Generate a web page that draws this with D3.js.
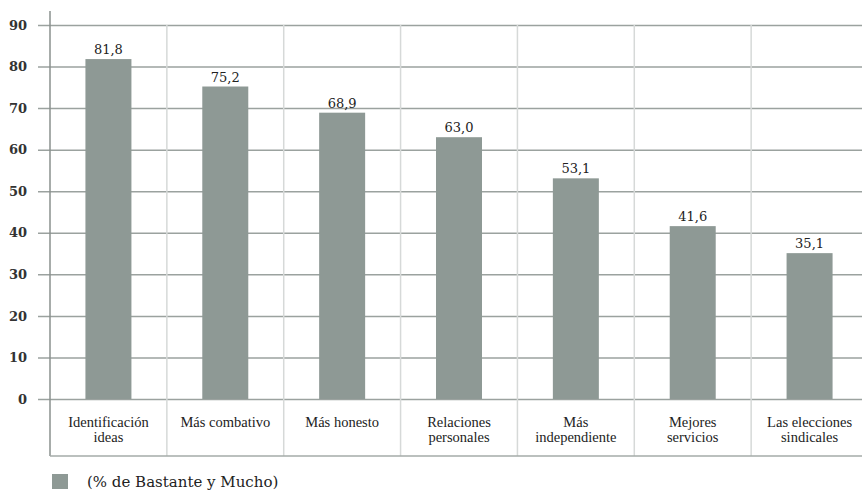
<!DOCTYPE html>
<html>
<head>
<meta charset="utf-8">
<script src="https://cdn.jsdelivr.net/npm/d3@7"></script>
<style>
  html, body { margin: 0; padding: 0; background: #fff; }
  svg { display: block; }
</style>
</head>
<body>
<svg id="chart" width="862" height="494"></svg>
<script>
// Categories (two-line labels) and percentages
const categories = [
  ["Identificación", "ideas"],
  ["Más combativo"],
  ["Más honesto"],
  ["Relaciones", "personales"],
  ["Más", "independiente"],
  ["Mejores", "servicios"],
  ["Las elecciones", "sindicales"]
];
const values = [81.8, 75.2, 68.9, 63.0, 53.1, 41.6, 35.1];
const yTicks = [0, 10, 20, 30, 40, 50, 60, 70, 80, 90];
const legendLabel = "(% de Bastante y Mucho)";

(function draw() {
  const svg = d3.select("#chart");
  const plotLeft = 50, plotRight = 868, plotTop = 25, plotBottom = 399, labelBottom = 456;
  const slab = "'DejaVu Serif', serif";
  const book = "'Liberation Serif', serif";

  const x = d3.scaleBand()
    .domain(d3.range(categories.length))
    .range([plotLeft, plotRight])
    .paddingInner(0).paddingOuter(0);

  const y = d3.scaleLinear().domain([0, 90]).range([plotBottom, plotTop]);

  const fmt = v => d3.format(".1f")(v).replace(".", ",");

  // horizontal gridlines with ticks extending left of the axis
  const yAxis = d3.axisLeft(y).tickValues(yTicks).tickSize(0).tickPadding(0);
  const gy = svg.append("g").attr("transform", `translate(${plotLeft},0)`).call(yAxis);
  gy.select(".domain").remove();
  gy.selectAll(".tick line").remove();
  gy.selectAll(".tick").append("line")
    .attr("x1", -12).attr("x2", 862 - plotLeft)
    .attr("stroke", "#9ba29f").attr("stroke-width", 1.5);
  gy.selectAll(".tick text")
    .attr("x", -23).attr("dy", "0.32em")
    .attr("fill", "#333")
    .style("font-family", slab).style("font-size", "13px").style("font-weight", "bold");

  // vertical column separators
  svg.append("g").selectAll("line")
    .data(d3.range(1, categories.length))
    .join("line")
    .attr("x1", d => x(d)).attr("x2", d => x(d))
    .attr("y1", plotTop).attr("y2", labelBottom)
    .attr("stroke", "#d6d9d8").attr("stroke-width", 1.5);

  // left axis line
  svg.append("line")
    .attr("x1", plotLeft).attr("x2", plotLeft).attr("y1", 11).attr("y2", labelBottom)
    .attr("stroke", "#8a908e").attr("stroke-width", 1.5);

  // bottom line under category labels
  svg.append("line")
    .attr("x1", plotLeft).attr("x2", 862).attr("y1", labelBottom).attr("y2", labelBottom)
    .attr("stroke", "#a5aba9").attr("stroke-width", 1.5);

  // bars
  const barW = 46;
  svg.append("g").selectAll("rect")
    .data(values)
    .join("rect")
    .attr("x", (d, i) => x(i) + x.bandwidth() / 2 - barW / 2)
    .attr("y", d => y(d))
    .attr("width", barW)
    .attr("height", d => plotBottom - y(d))
    .attr("fill", "#8e9995");

  // value labels
  svg.append("g").selectAll("text")
    .data(values)
    .join("text")
    .attr("x", (d, i) => x(i) + x.bandwidth() / 2)
    .attr("y", d => y(d) - 5)
    .attr("text-anchor", "middle")
    .attr("fill", "#222")
    .style("font-family", slab).style("font-size", "13px")
    .text(d => fmt(d));

  // category labels, one text element per line
  const catG = svg.append("g").selectAll("g")
    .data(categories)
    .join("g")
    .attr("transform", (d, i) => `translate(${x(i) + x.bandwidth() / 2},0)`);
  catG.selectAll("text")
    .data(d => d)
    .join("text")
    .attr("x", 0)
    .attr("y", (d, i) => 427 + i * 15)
    .attr("text-anchor", "middle")
    .attr("fill", "#222")
    .style("font-family", book).style("font-size", "14.5px")
    .text(d => d);

  // legend
  svg.append("rect")
    .attr("x", 52).attr("y", 474).attr("width", 16).attr("height", 15)
    .attr("fill", "#8e9995");
  svg.append("text")
    .attr("x", 87).attr("y", 487)
    .attr("fill", "#222")
    .style("font-family", slab).style("font-size", "15px")
    .text(legendLabel);
})();
</script>
</body>
</html>
